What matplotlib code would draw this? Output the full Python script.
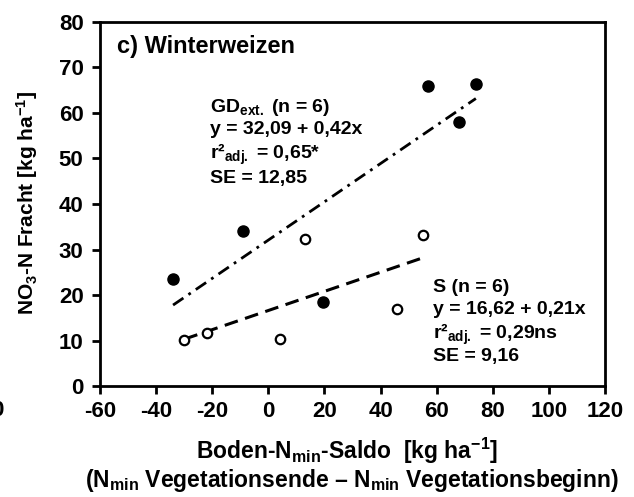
import numpy as np
import matplotlib
matplotlib.use('Agg')
import matplotlib.pyplot as plt

plt.rcParams['font.family'] = 'Liberation Sans'
plt.rcParams['font.weight'] = 'bold'
plt.rcParams['axes.unicode_minus'] = False
plt.rcParams['mathtext.fontset'] = 'custom'
plt.rcParams['mathtext.bf'] = 'Liberation Sans:bold'
plt.rcParams['mathtext.rm'] = 'Liberation Sans:bold'
plt.rcParams['mathtext.it'] = 'Liberation Sans:bold'
plt.rcParams['mathtext.default'] = 'bf'

# GD ext. (filled)
gd_x = [-34, -9, 19.5, 57, 68, 74]
gd_y = [23.5, 34, 18.5, 66, 58, 66.3]
gd_a, gd_b = 32.09, 0.42
gd_txt = ['GD$_{ext.}$ (n = 6)', 'y = 32,09 + 0,42x', 'r²$_{adj.}$ = 0,65*', 'SE = 12,85']

# S (open)
s_x = [-30, -22, 4, 13, 46, 55]
s_y = [10.2, 11.6, 10.3, 32.3, 16.9, 33.2]
s_a, s_b = 16.62, 0.21
s_txt = ['S (n = 6)', 'y = 16,62 + 0,21x', 'r²$_{adj.}$ = 0,29ns', 'SE = 9,16']

xticks = np.arange(-60, 121, 20)
yticks = np.arange(0, 81, 10)

fig = plt.figure(figsize=(6.34, 4.97), dpi=100)
ax = fig.add_axes([0.158, 0.223, 0.796, 0.733])

xl = np.array([min(gd_x), max(gd_x)])
ax.plot(xl, gd_a + gd_b * xl, color='black', lw=2, linestyle=(0, (4.5, 2.2, 1, 2.2)))
xs = np.array([min(s_x), max(s_x)])
ax.plot(xs, s_a + s_b * xs, color='black', lw=2.2, linestyle=(0, (4.5, 2.5)))

ax.plot(gd_x, gd_y, 'o', color='black', ms=8, zorder=3)
ax.plot(s_x, s_y, 'o', mfc='white', mec='black', mew=1.6, ms=6.8, zorder=3)

ax.set_xlim(-60, 120)
ax.set_ylim(0, 80)
ax.set_xticks(xticks)
ax.set_yticks(yticks)
ax.tick_params(direction='out', length=6, width=2, labelsize=16)
ax.tick_params(axis='x', pad=5)
ax.tick_params(axis='y', pad=6)
for lab in ax.get_xticklabels() + ax.get_yticklabels():
    lab.set_fontweight('bold')
for sp in ax.spines.values():
    sp.set_linewidth(2)

fig.text(117 / 634, 1 - 47 / 497, 'c) Winterweizen', fontsize=17, fontweight='bold', va='center')

# text blocks, one line at a time (pixel rows from the reference)
for i, t in enumerate(gd_txt):
    fig.text(210 / 634, 1 - [108, 130, 154, 178][i] / 497, t, fontsize=14, fontweight='bold', va='center')
for i, t in enumerate(s_txt):
    fig.text(433 / 634, 1 - [287, 310, 334, 356][i] / 497, t, fontsize=14, fontweight='bold', va='center')

fig.text(27 / 634, 1 - 203 / 497, 'NO$_3$-N Fracht [kg ha$^{-1}$]', rotation=90, ha='center', va='center',
         fontsize=15, fontweight='bold')
fig.text(347 / 634, 1 - 451 / 497, 'Boden-N$_{min}$-Saldo  [kg ha$^{-1}$]', ha='center', va='center',
         fontsize=16.5, fontweight='bold')
fig.text(352 / 634, 1 - 481 / 497, '(N$_{min}$ Vegetationsende – N$_{min}$ Vegetationsbeginn)', ha='center',
         va='center', fontsize=16.5, fontweight='bold')
fig.text(-0.014, 1 - 411 / 497, '0', ha='left', va='center', fontsize=16, fontweight='bold')

fig.savefig('out.png', dpi=100)
